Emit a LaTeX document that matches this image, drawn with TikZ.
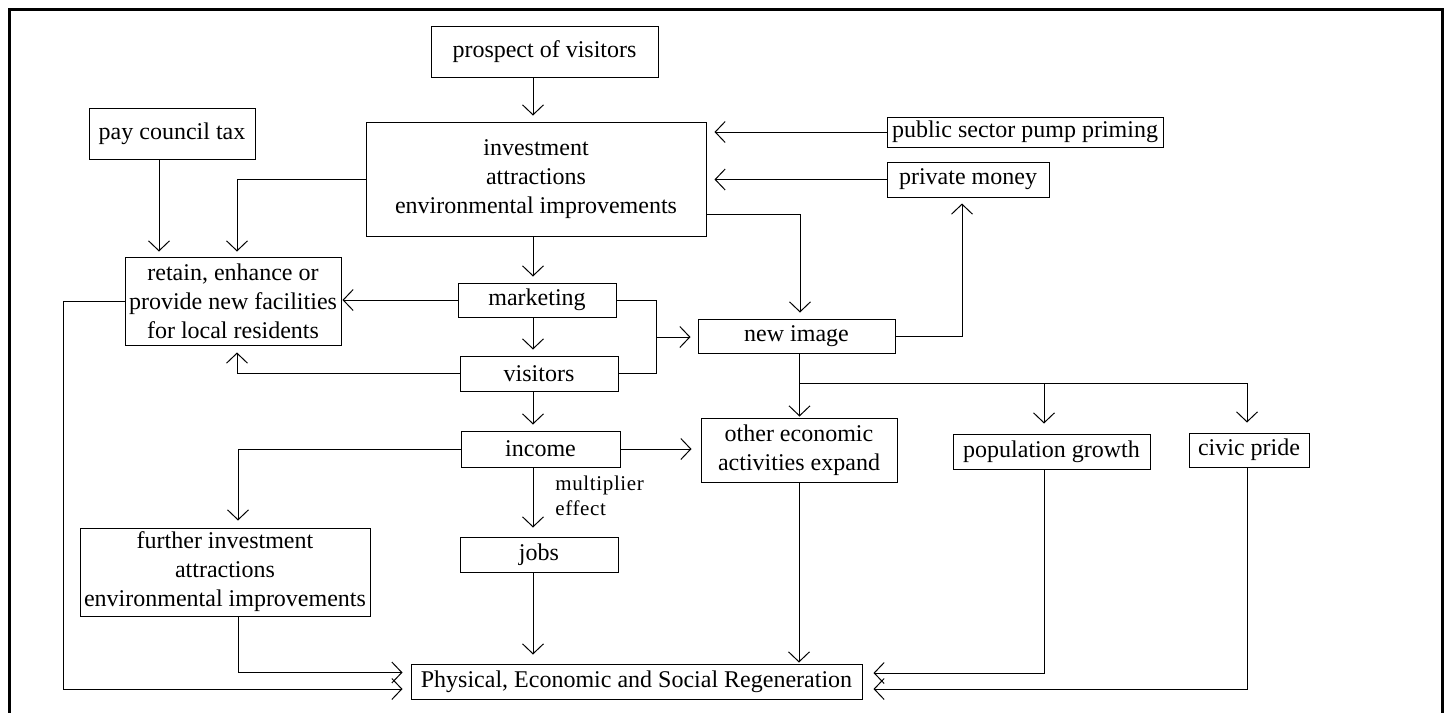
\documentclass[tikz,border=0pt]{standalone}
\usepackage{fontspec}
\setmainfont{Liberation Serif}
\usetikzlibrary{arrows.meta}
\tikzset{
  stage/.style={draw, line width=0.5pt, inner sep=1pt, align=center, font=\fontsize{12}{14.5}\selectfont},
  flow/.style={-{Straight Barb[length=5pt,width=10.5pt]}, line width=0.5pt, shorten >=3pt},
  note/.style={inner sep=0pt, align=left, font=\fontsize{10.5}{12.5}\selectfont\addfontfeature{LetterSpace=3}}
}
\begin{document}
\begin{tikzpicture}[x=0.5pt, y=-0.5pt]
  \useasboundingbox (0,0) rectangle (1453,713);
  % frame, open at the bottom
  \draw[line width=1.5pt] (9,713) -- (9,9.5) -- (1442,9.5) -- (1442,713);

  \node[stage, minimum width=113.5pt, minimum height=25.5pt] (prospect) at (544.5,51.5) {prospect of visitors};
  \node[stage, minimum width=83pt, minimum height=25.5pt] (tax) at (172,133.5) {pay council tax};
  \node[stage, minimum width=170pt, minimum height=57pt] (invest) at (536,179) {investment\\attractions\\environmental improvements};
  \node[stage, minimum width=138pt, minimum height=15pt] (public) at (1025,132) {public sector pump priming};
  \node[stage, minimum width=81pt, minimum height=17.5pt] (private) at (968,179.5) {private money};
  \node[stage, minimum width=108pt, minimum height=44pt] (retain) at (233,301) {retain, enhance or\\provide new facilities\\for local residents};
  \node[stage, minimum width=79pt, minimum height=17pt] (market) at (537,300) {marketing};
  \node[stage, minimum width=98.5pt, minimum height=17pt] (image) at (796.5,336) {new image};
  \node[stage, minimum width=79pt, minimum height=17.5pt] (visitors) at (539,373.5) {visitors};
  \node[stage, minimum width=79.5pt, minimum height=18pt] (income) at (540.5,449) {income};
  \node[stage, minimum width=98pt, minimum height=32pt] (other) at (799,450) {other economic\\activities expand};
  \node[stage, minimum width=98.5pt, minimum height=17.5pt] (growth) at (1051.5,451.5) {population growth};
  \node[stage, minimum width=60pt, minimum height=17pt] (pride) at (1249,450) {civic pride};
  \node[stage, minimum width=79pt, minimum height=17.5pt] (jobs) at (539,554.5) {jobs};
  \node[stage, minimum width=145pt, minimum height=44pt] (further) at (225,572) {further investment\\attractions\\environmental improvements};
  \node[stage, minimum width=225.5pt, minimum height=17.5pt] (regen) at (636.5,681.5) {Physical, Economic and Social Regeneration};
  \node[note, anchor=west] (mult) at (555,495.5) {multiplier\\effect};

  \coordinate (spine) at (533,0);
  \coordinate (join) at (656,337);
  \coordinate (lbus) at (63,0);
  \coordinate (fork) at ([xshift=1.5pt, yshift=-15pt]image.south);

  % main column
  \foreach \a/\b in {prospect/invest, invest/market, market/visitors, visitors/income}
    \draw[flow] (\a.south -| spine) -- (\b.north -| spine);
  \draw[flow, shorten >=4.5pt] (income.south -| spine) -- (jobs.north -| spine);
  \draw[flow, shorten >=4.5pt] (jobs.south -| spine) -- (regen.north -| spine);

  \draw[flow, shorten >=4pt] (public.west) -- (public.west -| invest.east);
  \draw[flow, shorten >=4pt] (private.west) -- (private.west -| invest.east);
  \draw[flow, shorten >=2.5pt] (invest.west) -| ([xshift=2pt]retain.north);
  \draw[flow, shorten >=2.5pt] ([xshift=-6.5pt]tax.south) -- ([xshift=-6.5pt]tax.south |- retain.north);
  \draw[flow] ([yshift=11pt]invest.south east) -| ([xshift=1.75pt]image.north);

  \draw[flow, shorten >=0.5pt] (market.west) -- (market.west -| retain.east);
  \draw (market.east) -| (join);
  \draw (visitors.east) -| (join);
  \draw[flow, shorten >=3.5pt] (join) -- (join -| image.west);
  \draw[flow, shorten >=3.5pt] (visitors.west) -| ([xshift=2pt]retain.south);
  \draw[flow] (image.east) -| ([xshift=-3pt]private.south);

  \draw[flow, shorten >=0.5pt] ([xshift=1.5pt]image.south) -- (fork |- other.north);
  \draw[flow, shorten >=5pt] (fork) -| ([xshift=-3.75pt]growth.north);
  \draw[flow, shorten >=5pt] (fork) -| ([xshift=-1pt]pride.north);
  \draw[flow, shorten >=4.5pt] (income.east) -- (income.east -| other.west);
  \draw[flow, shorten >=3.5pt] (income.west) -| ([xshift=6.5pt]further.north);

  % into the regeneration box
  \draw[flow, shorten >=0.5pt] (other.south) -- (other.south |- regen.north);
  \draw[flow, shorten >=4pt] ([xshift=6.5pt]further.south) |- ([yshift=4.5pt]regen.west);
  \draw[flow, shorten >=4pt] (retain.west) -- (retain.west -| lbus) |- ([yshift=-3.75pt]regen.west);
  \draw[flow, shorten >=5.5pt] ([xshift=-3.75pt]growth.south) |- ([yshift=4.25pt]regen.east);
  \draw[flow, shorten >=5.5pt] ([xshift=-1pt]pride.south) |- ([yshift=-3.75pt]regen.east);
\end{tikzpicture}
\end{document}
